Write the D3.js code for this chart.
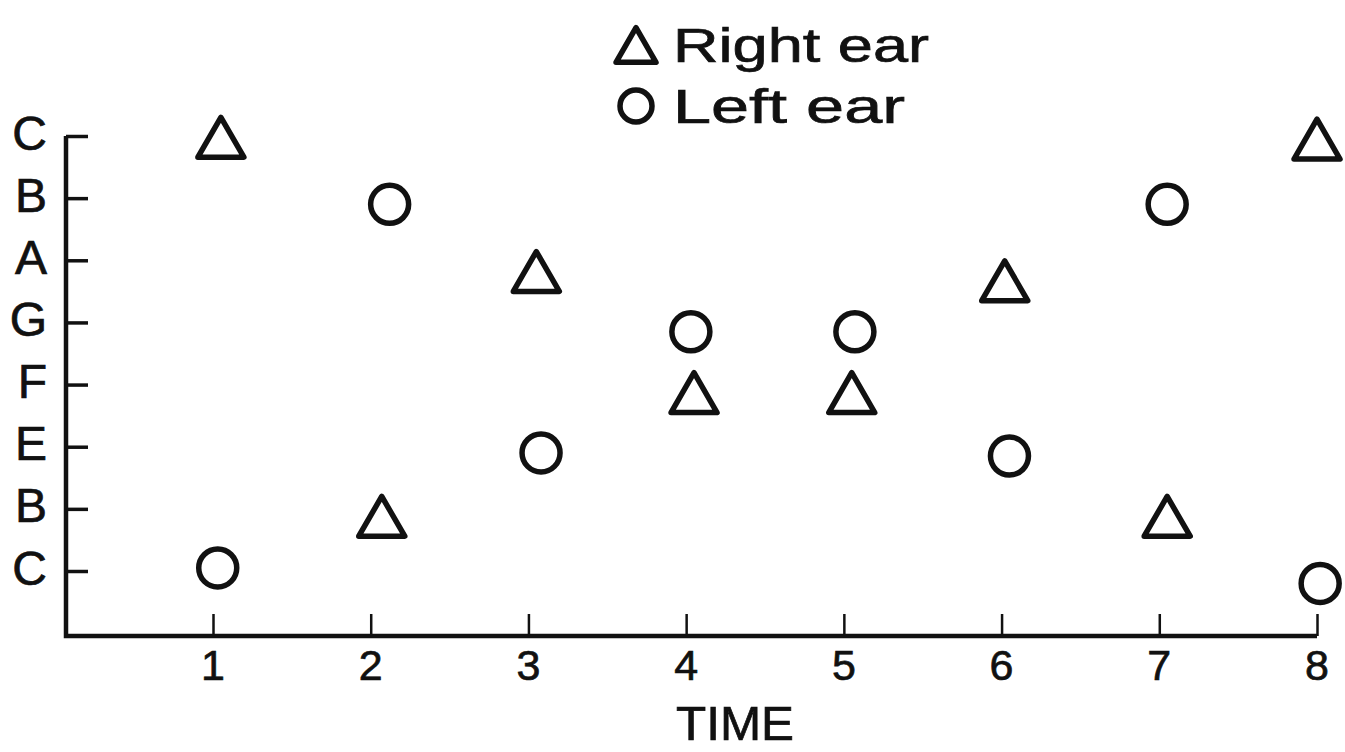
<!DOCTYPE html>
<html>
<head>
<meta charset="utf-8">
<script src="https://cdn.jsdelivr.net/npm/d3@7/dist/d3.min.js"></script>
<style>
  html, body { margin: 0; padding: 0; background: #fff; }
  svg { display: block; }
  text { font-family: "Liberation Sans", Arial, Helvetica, sans-serif; fill: #111; stroke: #111; stroke-width: 0.7; }
</style>
</head>
<body>
<svg id="chart" width="1345" height="752"></svg>
<script>
// Pitch levels, bottom to top, as labelled on the vertical axis
const pitchLabels = ["C", "B", "E", "F", "G", "A", "B", "C"];
// Time steps along the horizontal axis
const timeTicks = [1, 2, 3, 4, 5, 6, 7, 8];

// Right-ear responses (triangles): time and pitch level (0 = low C … 7 = high C)
const rightTime  = [1.05, 2.07, 3.05, 4.05, 5.05, 6.02, 7.05, 8.0];
const rightLevel = [6.98, 0.88, 4.82, 2.87, 2.87, 4.67, 0.88, 6.95];

// Left-ear responses (circles)
const leftTime  = [1.03, 2.12, 3.08, 4.03, 5.07, 6.05, 7.05, 8.02];
const leftLevel = [0.05, 5.9, 1.9, 3.85, 3.85, 1.85, 5.9, -0.2];

const legendItems = ["Right ear", "Left ear"];
const legendWidths = [256, 232];
const axisTitle = "TIME";

const svg = d3.select("#chart");
const ink = "#111";

const x = d3.scaleLinear().domain([1, 8]).range([213, 1317]);
const y = d3.scaleLinear().domain([0, 7]).range([571, 136]);

const axisX0 = 66;     // position of the vertical axis
const axisY = 636;     // baseline of the horizontal axis

// Vertical axis with inward ticks
const yAxis = d3.axisRight(y)
  .tickValues(d3.range(pitchLabels.length))
  .tickSize(22)
  .tickFormat("");
const gy = svg.append("g").attr("transform", `translate(${axisX0},0)`).call(yAxis);
gy.select(".domain").remove();
gy.selectAll(".tick line").attr("stroke", ink).attr("stroke-width", 3.5);

// Vertical axis labels
svg.append("g").selectAll("text")
  .data(pitchLabels)
  .join("text")
  .attr("x", 47)
  .attr("y", (d, i) => y(i) - 3)
  .attr("text-anchor", "end")
  .attr("dominant-baseline", "central")
  .attr("font-size", 48)
  .text(d => d);

// Horizontal axis with upward ticks
const xAxis = d3.axisTop(x)
  .tickValues(timeTicks)
  .tickSize(22)
  .tickFormat("");
const gx = svg.append("g").attr("transform", `translate(0,${axisY})`).call(xAxis);
gx.select(".domain").remove();
gx.selectAll(".tick line").attr("stroke", ink).attr("stroke-width", 2.5);

// Axis lines
svg.append("path")
  .attr("d", `M${axisX0},${y(7)}V${axisY}H${x(8)}`)
  .attr("fill", "none")
  .attr("stroke", ink)
  .attr("stroke-width", 4.5);

// Tick labels
svg.append("g").selectAll("text")
  .data(timeTicks)
  .join("text")
  .attr("x", d => x(d))
  .attr("y", 680)
  .attr("text-anchor", "middle")
  .attr("font-size", 43)
  .text(d => d);

svg.append("text")
  .attr("x", 735)
  .attr("y", 740)
  .attr("text-anchor", "middle")
  .attr("font-size", 48)
  .attr("textLength", 118)
  .attr("lengthAdjust", "spacingAndGlyphs")
  .text(axisTitle);

// Marker shapes
const triPath = s => {
  const h = s * Math.sqrt(3) / 2;
  return `M0,${-h / 2}L${s / 2},${h / 2}L${-s / 2},${h / 2}Z`;
};
const markerStyle = sel => sel
  .attr("fill", "none")
  .attr("stroke", ink)
  .attr("stroke-width", 5.5)
  .attr("stroke-linejoin", "round");

const right = rightTime.map((t, i) => ({ t, v: rightLevel[i] }));
const left = leftTime.map((t, i) => ({ t, v: leftLevel[i] }));

svg.append("g").selectAll("path")
  .data(right)
  .join("path")
  .attr("transform", d => `translate(${x(d.t)},${y(d.v)})`)
  .attr("d", triPath(46))
  .call(markerStyle);

svg.append("g").selectAll("circle")
  .data(left)
  .join("circle")
  .attr("cx", d => x(d.t))
  .attr("cy", d => y(d.v))
  .attr("r", 19)
  .call(markerStyle);

// Legend
const legend = svg.append("g");
const legendY = [45, 106];
legend.append("path")
  .attr("transform", `translate(636,${legendY[0]})`)
  .attr("d", triPath(40))
  .call(markerStyle);
legend.append("circle")
  .attr("cx", 636).attr("cy", legendY[1]).attr("r", 16)
  .call(markerStyle);
legend.selectAll("text")
  .data(legendItems)
  .join("text")
  .attr("x", 673)
  .attr("y", (d, i) => legendY[i] + 17)
  .attr("font-size", 48)
  .attr("textLength", (d, i) => legendWidths[i])
  .attr("lengthAdjust", "spacingAndGlyphs")
  .text(d => d);
</script>
</body>
</html>
